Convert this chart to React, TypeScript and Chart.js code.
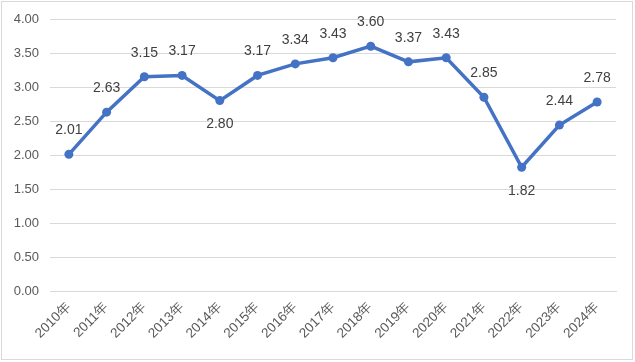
import React, { useEffect, useRef } from "react";
import { Chart, registerables } from "chart.js";

Chart.register(...registerables);

const categories = ["2010年", "2011年", "2012年", "2013年", "2014年", "2015年", "2016年", "2017年", "2018年", "2019年", "2020年", "2021年", "2022年", "2023年", "2024年"];
const values = [2.01, 2.63, 3.15, 3.17, 2.8, 3.17, 3.34, 3.43, 3.6, 3.37, 3.43, 2.85, 1.82, 2.44, 2.78];
const labelPositions = ["above", "above", "above", "above", "below", "above", "above", "above", "above", "above", "above", "above", "below", "above", "above"];
const yTicks = { min: 0, max: 4, step: 0.5 };

const FONT = '"Liberation Sans", Arial, sans-serif';

const dataLabelPlugin = {
  id: "dataLabels",
  afterDatasetsDraw(chart: any) {
    const ctx = chart.ctx;
    const meta = chart.getDatasetMeta(0);
    ctx.save();
    ctx.font = `14px ${FONT}`;
    ctx.fillStyle = "#404040";
    ctx.textAlign = "center";
    ctx.textBaseline = "middle";
    meta.data.forEach((pt: any, i: number) => {
      const dy = labelPositions[i] === "below" ? 24 : -24;
      ctx.fillText(values[i].toFixed(2), pt.x, pt.y + dy);
    });
    ctx.restore();
  },
};

export default function App() {
  const ref = useRef<HTMLCanvasElement | null>(null);
  useEffect(() => {
    document.body.style.margin = "0";
    const chart = new Chart(ref.current!, {
      type: "line",
      data: {
        labels: categories,
        datasets: [
          {
            data: values,
            borderColor: "#4472C4",
            backgroundColor: "#4472C4",
            borderWidth: 3.5,
            pointRadius: 4.5,
            pointHoverRadius: 4.5,
            pointBackgroundColor: "#4472C4",
            pointBorderWidth: 0,
            tension: 0,
          },
        ],
      },
      options: {
        animation: false,
        responsive: false,
        maintainAspectRatio: false,
        layout: { padding: { left: 0, right: 19, top: 19, bottom: 0 } },
        plugins: { legend: { display: false }, tooltip: { enabled: false } },
        scales: {
          x: {
            offset: true,
            grid: { display: false, drawTicks: false },
            border: { display: true, color: "#d9d9d9" },
            ticks: {
              minRotation: 45,
              maxRotation: 45,
              autoSkip: false,
              padding: 8,
              color: "#595959",
              font: { family: FONT, size: 13.5 },
            },
            afterFit(scale: any) {
              scale.height = 71;
            },
          },
          y: {
            min: yTicks.min,
            max: yTicks.max,
            grid: { color: "#d9d9d9", drawTicks: false },
            border: { display: false },
            ticks: {
              stepSize: yTicks.step,
              padding: 11,
              color: "#595959",
              font: { family: FONT, size: 13 },
              callback: (v: any) => Number(v).toFixed(2),
            },
            afterFit(scale: any) {
              scale.width = 50;
            },
          },
        },
      },
      plugins: [dataLabelPlugin],
    });
    return () => chart.destroy();
  }, []);
  return (
    <div style={{ position: "relative", width: 635, height: 362 }}>
      <canvas ref={ref} width={635} height={362} style={{ display: "block" }} />
      <div
        style={{
          position: "absolute",
          left: 1,
          top: 1,
          width: 632,
          height: 359,
          border: "1px solid #d9d9d9",
          boxSizing: "border-box",
          pointerEvents: "none",
        }}
      />
    </div>
  );
}
